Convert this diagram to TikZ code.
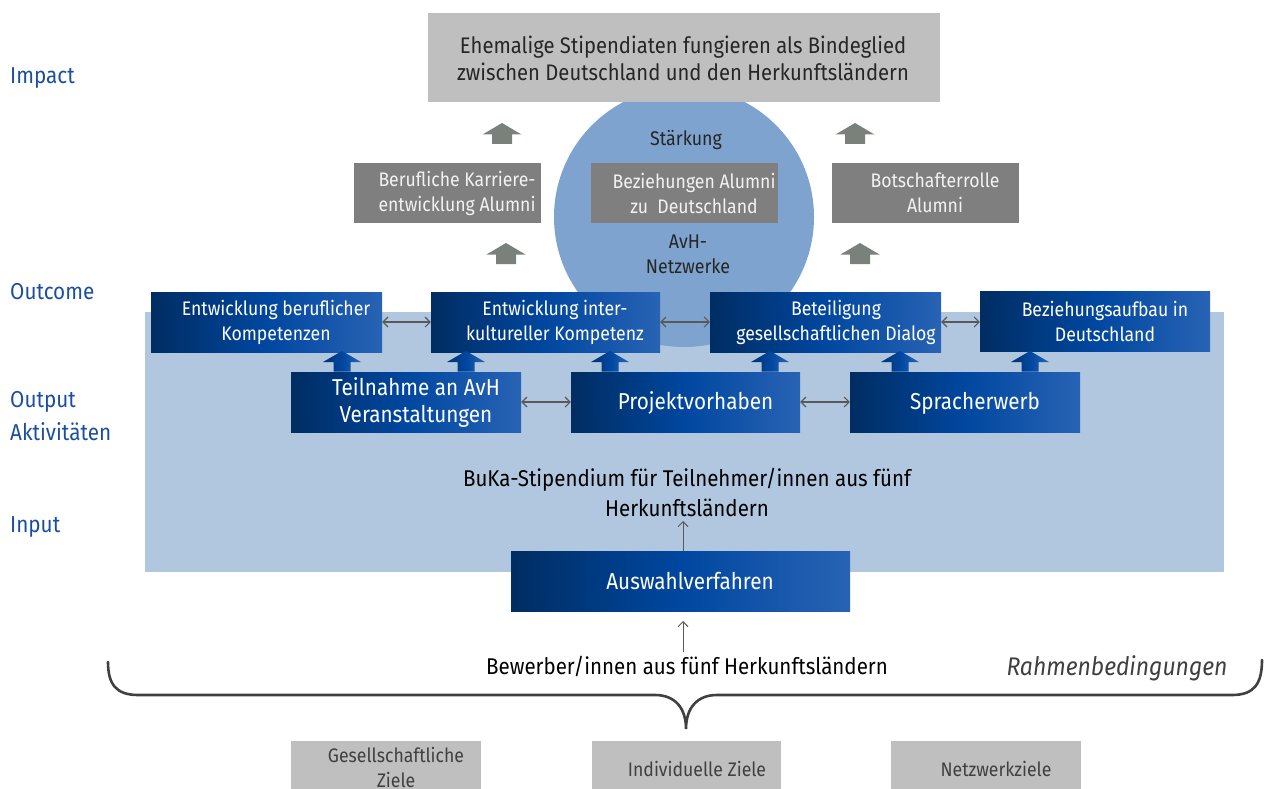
\documentclass[tikz,border=0pt]{standalone}
\usepackage{fontspec}
\setmainfont{Fira Sans}[FakeStretch=0.9]
\usetikzlibrary{arrows.meta}
\definecolor{bgblue}{HTML}{B1C7E0}
\definecolor{circblue}{HTML}{7DA3CE}
\definecolor{topgray}{HTML}{BFBFBF}
\definecolor{midgray}{HTML}{7F7F7F}
\definecolor{arrgray}{HTML}{7A807A}
\definecolor{dkblue}{HTML}{002D62}
\definecolor{mdblue}{HTML}{0047A0}
\definecolor{ltblue}{HTML}{2863B4}
\definecolor{lblblue}{HTML}{1A4EA0}
\definecolor{linegray}{HTML}{595959}
\definecolor{bracegray}{HTML}{404040}
\definecolor{txtgray}{HTML}{404040}
\begin{document}
\begin{tikzpicture}[x=1pt,y=-1pt,
  bluebox/.style={inner sep=0pt, minimum height=60pt, left color=dkblue, right color=ltblue, middle color=mdblue},
  graybox/.style={inner sep=0pt, minimum width=187pt, minimum height=60pt, fill=midgray},
  lightbox/.style={inner sep=0pt, minimum width=190pt, minimum height=60pt, fill=topgray},
  boxtxt/.style={text=white, align=center, inner sep=0pt, font=\fontsize{19.6}{25}\selectfont},
  acttxt/.style={text=white, align=center, inner sep=0pt, font=\fontsize{23}{27}\selectfont},
  sidelbl/.style={anchor=west, text=lblblue, inner sep=0pt, font=\fontsize{23}{30}\selectfont},
  dbl/.style={{Straight Barb[length=5pt,width=10pt]}-{Straight Barb[length=5pt,width=10pt]}, draw=linegray, line width=1.1pt},
  thinarr/.style={-{Straight Barb[length=5pt,width=10pt]}, draw=linegray, line width=0.9pt},
  grayup/.pic={\path[fill=arrgray] (0,0) -- (19.5,11.5) -- (10,11.5) -- (10,21) -- (-10,21) -- (-10,11.5) -- (-19.5,11.5) -- cycle;},
  blueup/.pic={\path[left color=dkblue!80!mdblue, right color=ltblue, middle color=mdblue] (0,0) -- (19,11) -- (8.5,11) -- (8.5,20.5) -- (-8.5,20.5) -- (-8.5,11) -- (-19,11) -- cycle;}
]
\useasboundingbox (0,0) rectangle (1269,789);
\clip (0,0) rectangle (1269,789);

% background band
\node[fill=bgblue, inner sep=0pt, minimum width=1079pt, minimum height=260pt] (band) at (684.5,442) {};
% circle
\node[circle, fill=circblue, inner sep=0pt, minimum size=260pt] (circ) at (684,217) {};
% top box
\node[fill=topgray, inner sep=0pt, minimum width=512pt, minimum height=89pt] (top) at (684,57.5) {};
\node[align=center, inner sep=0pt, text=black!85, font=\fontsize{22.5}{27}\selectfont] (toptxt) at (683,58.5) {Ehemalige Stipendiaten fungieren als Bindeglied\\zwischen Deutschland und den Herkunftsländern};

% side labels
\node[sidelbl] (limpact) at (10,78) {Impact};
\node[sidelbl] (loutcome) at (10,292) {Outcome};
\node[sidelbl] (loutput) at (10,402) {Output};
\node[sidelbl] (lakt) at (10,432) {Aktivitäten};
\node[sidelbl] (linput) at (10,527) {Input};

% circle texts
\node[text=black!85, inner sep=0pt, font=\fontsize{19.8}{25}\selectfont] (staerk) at (686,140) {Stärkung};
\node[text=black!85, inner sep=0pt, align=center, font=\fontsize{19.8}{25}\selectfont] (avh) at (688,254.5) {AvH-\\Netzwerke};

% gray impact boxes
\node[graybox] (g1) at (447.5,193) {};
\node[graybox] (g2) at (684.5,193) {};
\node[graybox] (g3) at (925.5,193) {};
\node[boxtxt, text=white!95!black] (g1t) at (457,193) {Berufliche Karriere-\\entwicklung Alumni};
\node[boxtxt, text=white!95!black] (g2t) at (694,193) {Beziehungen Alumni\\zu\ \ Deutschland};
\node[boxtxt, text=white!95!black] (g3t) at (935,193) {Botschafterrolle\\Alumni};

% gray up arrows
\pic at (502,123) {grayup};
\pic at (855,123) {grayup};
\pic at (506,243) {grayup};
\pic at (860,243) {grayup};

% outcome boxes
\node[bluebox, minimum width=231pt] (o1) at (266.5,322) {};
\node[bluebox, minimum width=229pt] (o2) at (545.5,322) {};
\node[bluebox, minimum width=231pt] (o3) at (825.5,322) {};
\node[bluebox, minimum width=230pt] (o4) at (1095,321) {};
\node[boxtxt] (o1t) at (276,322) {Entwicklung beruflicher\\Kompetenzen};
\node[boxtxt] (o2t) at (555,322) {Entwicklung inter-\\kultureller Kompetenz};
\node[boxtxt] (o3t) at (836,322) {Beteiligung\\gesellschaftlichen Dialog};
\node[boxtxt] (o4t) at (1105,321) {Beziehungsaufbau in\\Deutschland};
\draw[dbl] (o1.east) -- (o2.west);
\draw[dbl] (o2.east) -- (o3.west);
\draw[dbl] (o3.east) -- (o3.east -| o4.west);

% blue up arrows
\pic at (342,351) {blueup};
\pic at (466,351) {blueup};
\pic at (610,351) {blueup};
\pic at (770,351) {blueup};
\pic at (900,351) {blueup};
\pic at (1030,351) {blueup};

% activity boxes
\node[bluebox, minimum width=230pt] (a1) at (406,402) {};
\node[bluebox, minimum width=229pt] (a2) at (685.5,402) {};
\node[bluebox, minimum width=230pt] (a3) at (965,402) {};
\node[acttxt] (a1t) at (416,402) {Teilnahme an AvH\\Veranstaltungen};
\node[acttxt] (a2t) at (695.5,403) {Projektvorhaben};
\node[acttxt] (a3t) at (975,403) {Spracherwerb};
\draw[dbl] (a1.east) -- (a2.west);
\draw[dbl] (a2.east) -- (a3.west);

% input
\node[align=center, inner sep=0pt, text=black, font=\fontsize{22.8}{30}\selectfont] (buka) at (687,492) {BuKa-Stipendium für Teilnehmer/innen aus fünf\\Herkunftsländern};
\node[bluebox, minimum width=339pt] (aus) at (680.5,581) {};
\node[acttxt] (aust) at (690,581) {Auswahlverfahren};
\coordinate (bukatip) at (683,521);
\draw[thinarr] (bukatip |- aus.north) -- (bukatip);
\node[inner sep=0pt, text=black, font=\fontsize{22.8}{30}\selectfont] (bew) at (687,666) {Bewerber/innen aus fünf Herkunftsländern};
\coordinate (bewtop) at (683,652);
\coordinate (ausbot) at (683,621);
\draw[thinarr] (bewtop) -- (ausbot);

\node[inner sep=0pt, text=txtgray, font=\fontsize{25.5}{30}\selectfont\itshape] (rahmen) at (1117,668) {Rahmenbedingungen};

% brace
\coordinate (brL) at (108,662);
\coordinate (brR) at (1262,660);
\coordinate (brTip) at (686,729);
\draw[draw=bracegray, line width=2.6pt, line cap=round]
  (brL) .. controls (108,684) and (116,695) .. (138,695) -- (655,695)
  .. controls (675,695) and (686,708) .. (brTip)
  .. controls (686,708) and (697,695) .. (717,695) -- (1232,695)
  .. controls (1254,695) and (1262,684) .. (brR);

% goal boxes
\node[lightbox] (z1) at (386,771) {};
\node[lightbox, minimum width=189pt] (z2) at (686.5,771) {};
\node[lightbox] (z3) at (986,771) {};
\node[boxtxt, text=txtgray] (z1t) at (396,767.5) {Gesellschaftliche\\Ziele};
\node[boxtxt, text=txtgray] (z2t) at (697,769) {Individuelle Ziele};
\node[boxtxt, text=txtgray] (z3t) at (996,769) {Netzwerkziele};
\end{tikzpicture}
\end{document}
